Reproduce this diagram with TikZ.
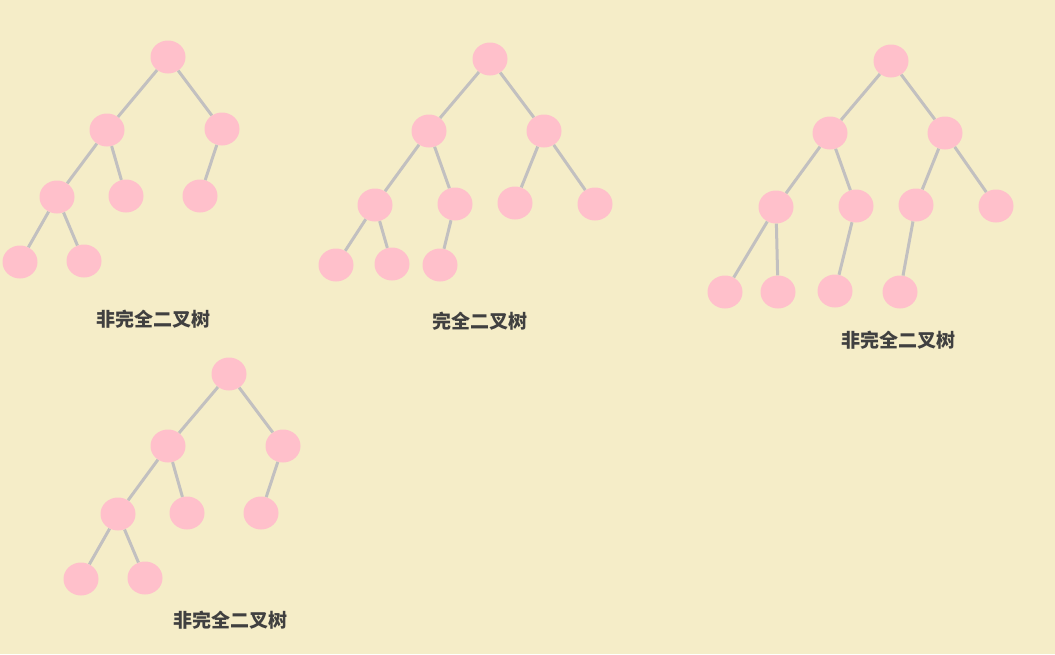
\documentclass[tikz,border=0pt]{standalone}
\usepackage{fontspec}
\usetikzlibrary{shapes.geometric}
\newfontfamily\cjk{Noto Sans CJK SC}
\definecolor{bgcream}{HTML}{F5EDC8}
\definecolor{nodepink}{HTML}{FFC0CB}
\definecolor{edgegray}{HTML}{C2C0C0}
\definecolor{labelgray}{HTML}{404040}
\begin{document}
\begin{tikzpicture}[x=1pt,y=-1pt]
        \tikzstyle{knot}=[fill=nodepink,ellipse,inner sep=0pt,minimum width=35pt,minimum height=33pt]
        \tikzstyle{branch}=[draw=edgegray,line width=3pt]
        \tikzstyle{caption}=[text=labelgray,font=\cjk\bfseries\fontsize{19}{22}\selectfont]
        \fill[bgcream] (0,0) rectangle (1055,654);
        \useasboundingbox (0,0) rectangle (1055,654);
        % tree a
        \node[knot] (a) at (168,57) {};
        \node[knot] (al) at (107,130) {};
        \node[knot] (ar) at (222,129) {};
        \node[knot] (all) at (57,197) {};
        \node[knot] (alr) at (126,196) {};
        \node[knot] (arl) at (200,196) {};
        \node[knot] (alll) at (20,262) {};
        \node[knot] (allr) at (84,261) {};
        \node[caption] (acap) at (153,319) {非完全二叉树};
        % tree b
        \node[knot] (b) at (490,59) {};
        \node[knot] (bl) at (429,131) {};
        \node[knot] (br) at (544,131) {};
        \node[knot] (bll) at (375,205) {};
        \node[knot] (blr) at (455,204) {};
        \node[knot] (brl) at (515,203) {};
        \node[knot] (brr) at (595,204) {};
        \node[knot] (blll) at (336,265) {};
        \node[knot] (bllr) at (392,264) {};
        \node[knot] (blrl) at (440,265) {};
        \node[caption] (bcap) at (480,321) {完全二叉树};
        % tree c
        \node[knot] (c) at (891,61) {};
        \node[knot] (cl) at (830,133) {};
        \node[knot] (cr) at (945,133) {};
        \node[knot] (cll) at (776,207) {};
        \node[knot] (clr) at (856,206) {};
        \node[knot] (crl) at (916,205) {};
        \node[knot] (crr) at (996,206) {};
        \node[knot] (clll) at (725,292) {};
        \node[knot] (cllr) at (778,292) {};
        \node[knot] (clrl) at (835,291) {};
        \node[knot] (crll) at (900,292) {};
        \node[caption] (ccap) at (898,340) {非完全二叉树};
        % tree d
        \node[knot] (d) at (229,374) {};
        \node[knot] (dl) at (168,446) {};
        \node[knot] (dr) at (283,446) {};
        \node[knot] (dll) at (118,514) {};
        \node[knot] (dlr) at (187,513) {};
        \node[knot] (drl) at (261,513) {};
        \node[knot] (dlll) at (81,579) {};
        \node[knot] (dllr) at (145,578) {};
        \node[caption] (dcap) at (230,620) {非完全二叉树};
        % branches
        \foreach \p/\q in {a/al,a/ar,al/all,al/alr,ar/arl,all/alll,all/allr,
                b/bl,b/br,bl/bll,bl/blr,br/brl,br/brr,bll/blll,bll/bllr,blr/blrl,
                c/cl,c/cr,cl/cll,cl/clr,cr/crl,cr/crr,cll/clll,cll/cllr,clr/clrl,crl/crll,
                d/dl,d/dr,dl/dll,dl/dlr,dr/drl,dll/dlll,dll/dllr}
            \draw[branch] (\p) -- (\q);
    \end{tikzpicture}
\end{document}
